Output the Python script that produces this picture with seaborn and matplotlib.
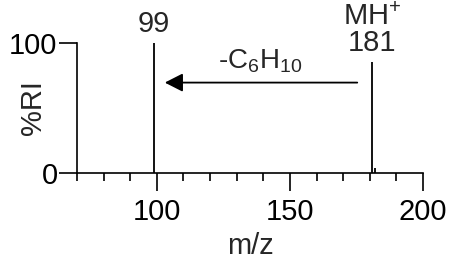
import matplotlib
matplotlib.use("Agg")
import matplotlib.pyplot as plt
import seaborn as sns
from matplotlib.ticker import MultipleLocator

# Spectrum data
mz = [99, 181, 182]
intensity = [100, 85, 4]
peak_labels = ["99", "MH$^{+}$\n181"]
loss_label = "-C$_6$H$_{10}$"
x_ticks = [100, 150, 200]
y_ticks = [0, 100]

sns.set_style("ticks")
plt.rcParams["font.family"] = ["Liberation Sans", "DejaVu Sans"]
plt.rcParams["mathtext.fontset"] = "custom"
plt.rcParams["mathtext.rm"] = "Liberation Sans"
plt.rcParams["mathtext.it"] = "Liberation Sans"

fs = 21

fig = plt.figure(figsize=(4.5, 2.54), dpi=100)
ax = fig.add_axes([0.171, 0.319, 0.769, 0.512])

ax.vlines(mz, 0, intensity, color="black", lw=1.3)

ax.set_xlim(70, 200)
ax.set_ylim(0, 100)
ax.set_xticks(x_ticks)
ax.set_yticks(y_ticks)
ax.xaxis.set_minor_locator(MultipleLocator(10))
ax.tick_params(axis="both", which="major", length=13, width=1.2,
               color="black", labelsize=fs, labelcolor="black")
ax.tick_params(axis="x", which="minor", length=6, width=1.2, color="black")
ax.tick_params(axis="y", pad=1)
ax.tick_params(axis="x", pad=5)

sns.despine(ax=ax)
for side in ["left", "bottom"]:
    ax.spines[side].set_color("black")
    ax.spines[side].set_linewidth(1.2)

ax.set_xlabel("m/z", fontsize=fs, va="center")
ax.xaxis.set_label_coords(0.5, -0.56)
ax.set_ylabel("%RI", fontsize=fs, va="center")
ax.yaxis.set_label_coords(-0.127, 0.5)

# peak labels
ax.text(mz[0], 104, peak_labels[0], ha="center", va="bottom", fontsize=fs)
ax.text(mz[1], 89, peak_labels[1], ha="center", va="bottom", fontsize=fs,
        linespacing=0.9)

# neutral loss arrow
ax.annotate("", xy=(103, 69.5), xytext=(175.3, 69.5),
            arrowprops=dict(arrowstyle="-|>,head_length=0.55,head_width=0.28",
                            mutation_scale=20, lw=1.3, color="black",
                            shrinkA=0, shrinkB=0))
ax.text(139, 75, loss_label, ha="center", va="bottom", fontsize=fs - 1)

fig.savefig("out.png", dpi=100)
